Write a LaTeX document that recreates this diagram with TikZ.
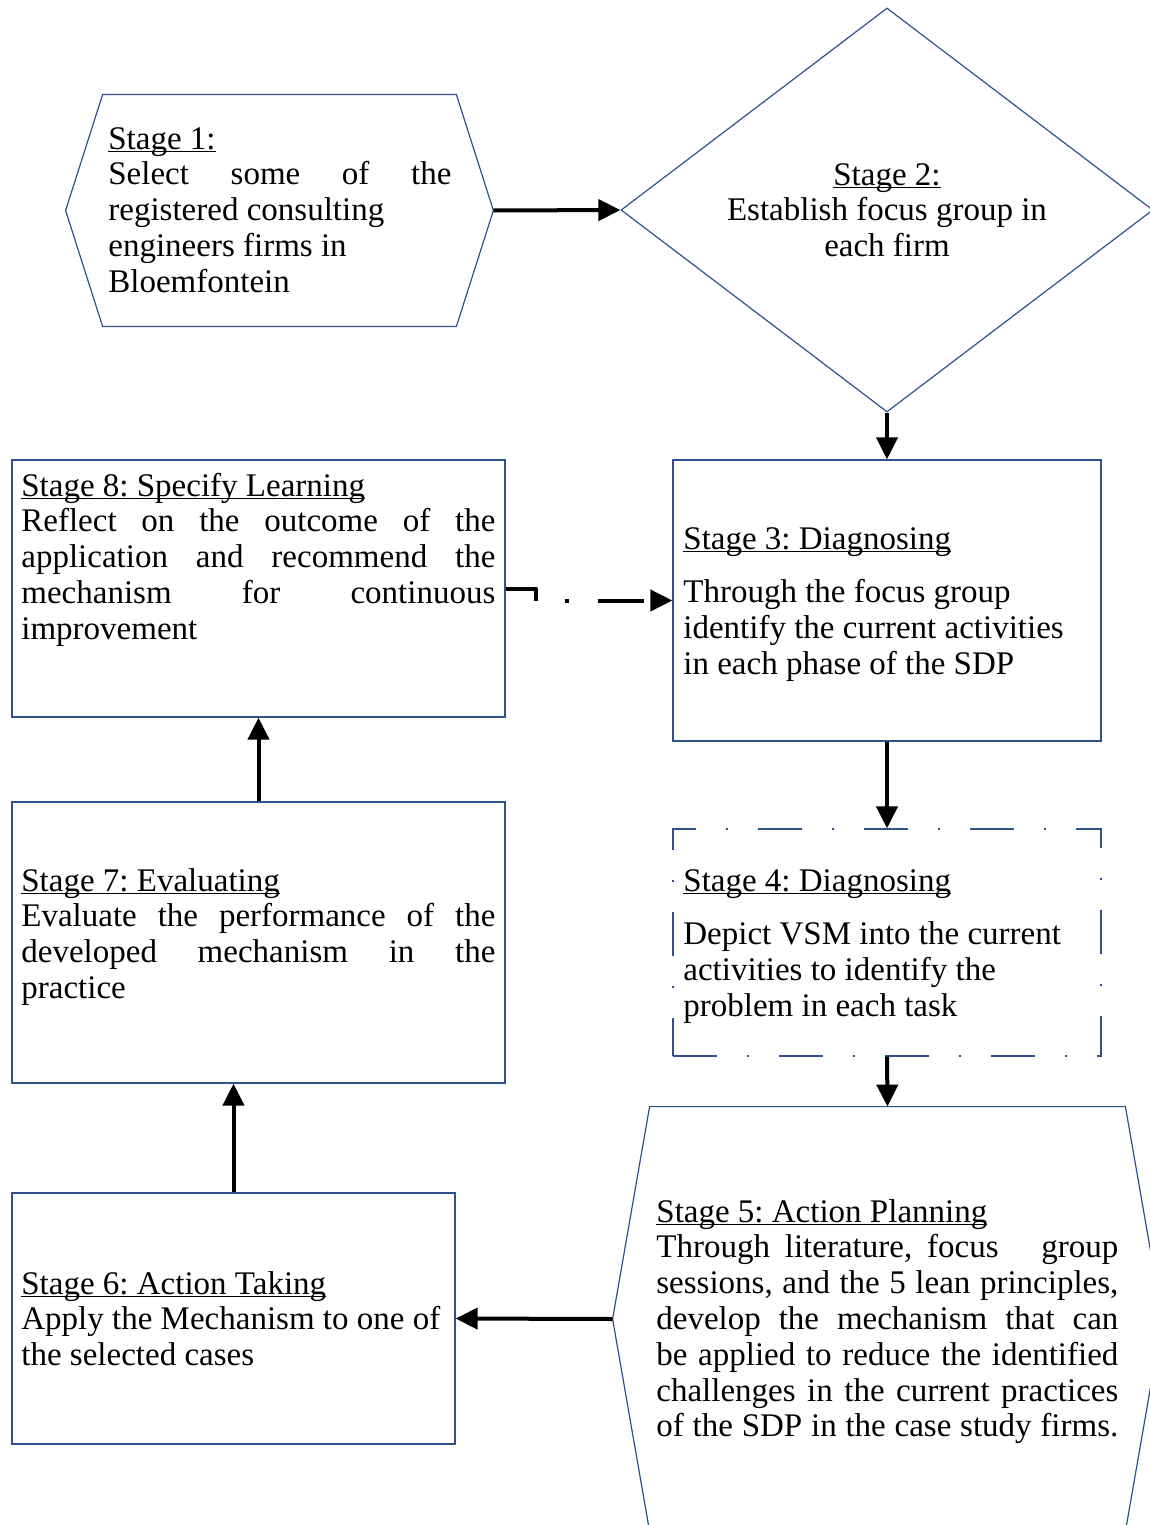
\documentclass[tikz,border=0pt]{standalone}
\usepackage{fontspec}
\setmainfont{Liberation Serif}
\usetikzlibrary{shapes.geometric,arrows.meta,calc}
\definecolor{outline}{RGB}{47,82,143}
% underlined stage heading: rule just below the baseline
\newsavebox{\headbox}
\newcommand{\stagehead}[1]{\sbox{\headbox}{#1}%
  \rlap{\rule[-1.4pt]{\wd\headbox}{0.55pt}}\usebox{\headbox}}
% normal word spacing of the text font
\newcommand{\wordspace}{\spaceskip=0.25em plus 0.1em minus 0.05em\xspaceskip=0.25em\relax}
% a line spread over a given width
\newcommand{\fillline}[2]{\leavevmode\makebox[#1][s]{\spaceskip=0.25em plus 1fil\relax #2}}

\begin{document}
\frenchspacing
\begin{tikzpicture}[x=0.5pt,y=-0.5pt,
  box/.style={draw=outline, line width=0.6pt, rectangle, inner sep=0pt},
  frame/.style={rectangle, inner sep=0pt},
  edge/.style={draw=outline, line width=0.6pt, line join=miter},
  txt/.style={inner sep=0pt, anchor=base west,
              font=\fontsize{16.5}{17.9}\selectfont\frenchspacing},
  flow/.style={line width=2pt, -{Triangle[length=11pt,width=10.5pt]}},
  dashdot/.style={dash pattern=on 22pt off 15pt on 1pt off 15pt}]

\fill[white] (0,0) rectangle (1150,1525);
\useasboundingbox (0,0) rectangle (1150,1525);

% ---- shapes ----
% Stage 1 hexagon
\node[frame, minimum width=213.5pt, minimum height=115.5pt] (s1) at (279.5,210.5) {};
\draw[edge] ($(s1.north west)+(37,0)$) -- ($(s1.north east)+(-37,0)$) -- (s1.east)
  -- ($(s1.south east)+(-37,0)$) -- ($(s1.south west)+(37,0)$) -- (s1.west) -- cycle;

% Stage 2 diamond
\node[diamond, draw=outline, line width=0.6pt, inner sep=0pt,
      minimum width=266pt, minimum height=202pt] (s2) at (887,210) {};

% Stage 3, 4 (dash-dotted), 6, 7, 8 rectangles
\node[box, minimum width=214pt, minimum height=140.5pt] (s3) at (887,600.5) {};
\node[box, dashdot, minimum width=214pt, minimum height=113.5pt] (s4) at (887,942.5) {};
\node[box, minimum width=221.5pt, minimum height=125.5pt] (s6) at (233.5,1318.5) {};
\node[box, minimum width=246.5pt, minimum height=140.5pt] (s7) at (258.5,942.5) {};
\node[box, minimum width=246.5pt, minimum height=128.5pt] (s8) at (258.5,588.5) {};

% Stage 5 hexagon
\node[frame, minimum width=274.5pt, minimum height=212pt] (s5) at (887.5,1319) {};
\draw[edge] ($(s5.north west)+(37,0)$) -- ($(s5.north east)+(-37,0)$) -- (s5.east)
  -- ($(s5.south east)+(-37,0)$) -- ($(s5.south west)+(37,0)$) -- (s5.west) -- cycle;

% ---- texts ----
\node[txt, text width=171.5pt] (t1) at (108,149)
  {\wordspace
   \stagehead{Stage 1:}\\
   \fillline{171.5pt}{Select some of the}\\
   registered consulting\\
   engineers firms in\\
   Bloemfontein};

\node[txt, anchor=base, text width=200pt] (t2) at (887,185)
  {\wordspace\centering
   \stagehead{Stage 2:}\\
   Establish focus group in\\
   each firm\par};

\node[txt, text width=237pt] (t8) at (21,496)
  {\wordspace
   \stagehead{Stage 8: Specify Learning}\\
   \fillline{237pt}{Reflect on the outcome of the}\\
   \fillline{237pt}{application and recommend the}\\
   \fillline{237pt}{mechanism for continuous}\\
   improvement};

\node[txt, text width=205pt] (t3) at (683,549)
  {\wordspace
   \stagehead{Stage 3: Diagnosing}\\[9pt]
   Through the focus group\\
   identify the current activities\\
   in each phase of the SDP};

\node[txt, text width=205pt] (t4) at (683,891)
  {\wordspace
   \stagehead{Stage 4: Diagnosing}\\[9pt]
   Depict VSM into the current\\
   activities to identify the\\
   problem in each task};

\node[txt, text width=237pt] (t7) at (21,891)
  {\wordspace
   \stagehead{Stage 7: Evaluating}\\
   \fillline{237pt}{Evaluate the performance of the}\\
   \fillline{237pt}{developed mechanism in the}\\
   practice};

\node[txt, text width=225pt] (t6) at (21,1294)
  {\wordspace
   \stagehead{Stage 6: Action Taking}\\
   Apply the Mechanism to one of\\
   the selected cases};

\node[txt, text width=231pt] (t5) at (656,1222)
  {\wordspace
   \stagehead{Stage 5: Action Planning}\\
   \fillline{231pt}{Through literature, focus\hspace{14pt} group}\\
   \fillline{231pt}{sessions, and the 5 lean principles,}\\
   \fillline{231pt}{develop the mechanism that can}\\
   \fillline{231pt}{be applied to reduce the identified}\\
   \fillline{231pt}{challenges in the current practices}\\
   \fillline{231pt}{of the SDP in the case study firms.}};

% ---- connectors ----
\draw[flow] (s1.east) -- (s2.west);
\draw[flow] (s2.south) -- (s3.north);
\draw[flow] (s3.south) -- (s4.north);
\draw[flow] (s4.south) -- (s5.north);
\draw[flow] (s5.west) -- (s6.east);
\draw[flow] (s6.north) -- (s6.north |- s7.south);
\draw[flow] (s7.north) -- (s8.south);
\draw[flow, line join=round,
      dash pattern=on 21pt off 14.5pt on 2pt off 14.5pt on 23pt off 30pt]
  (s8.east) -- ++(30,0) |- (s3.west);

\end{tikzpicture}
\end{document}
